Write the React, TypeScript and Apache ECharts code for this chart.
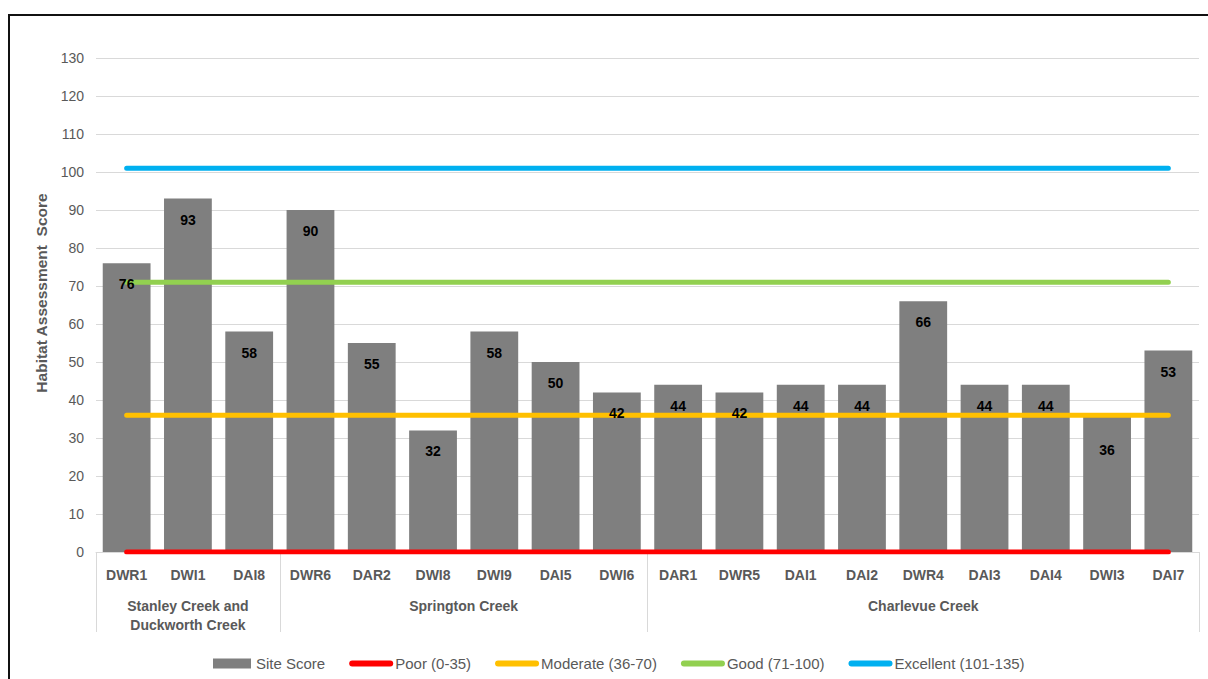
import React, { useEffect, useRef } from "react";
import * as echarts from "echarts";

// Sites, in the order they are plotted
const siteCodes = [
  "DWR1", "DWI1", "DAI8",
  "DWR6", "DAR2", "DWI8", "DWI9", "DAI5", "DWI6",
  "DAR1", "DWR5", "DAI1", "DAI2", "DWR4", "DAI3", "DAI4", "DWI3", "DAI7",
];
const siteScores = [76, 93, 58, 90, 55, 32, 58, 50, 42, 44, 42, 44, 44, 66, 44, 44, 36, 53];

// Creek groupings along the bottom axis
const creekGroups = ["Stanley Creek and\nDuckworth Creek", "Springton Creek", "Charlevue Creek"];
const creekGroupSizes = [3, 6, 9];

// Habitat condition bands (lower bound of each band)
const bandNames = ["Poor (0-35)", "Moderate (36-70)", "Good (71-100)", "Excellent (101-135)"];
const bandLevels = [0, 36, 71, 101];
const bandColors = ["#FF0000", "#FFC000", "#92D050", "#00B0F0"];

// Value axis
const yMin = 0;
const yMax = 130;
const yStep = 10;

const FONT = "'Liberation Sans', Arial, sans-serif";
const TEXT_GRAY = "#595959";
const GRID_GRAY = "#d9d9d9";
const BAR_GRAY = "#7F7F7F";

export default function App() {
  const ref = useRef<HTMLDivElement>(null);

  useEffect(() => {
    if (!ref.current) return;
    const chart = echarts.init(ref.current, undefined, { renderer: "svg" });

    const boundaries: number[] = [0];
    creekGroupSizes.forEach((n) => boundaries.push(boundaries[boundaries.length - 1] + n));
    const centers = creekGroupSizes.map((n, i) => boundaries[i] + n / 2);

    const labelData = siteScores.map((v, i) =>
      siteCodes[i] === "DWI3" ? { value: v, label: { distance: 28 } } : v
    );

    const bandSeries = bandNames.map((name, i) => ({
      name,
      type: "line",
      xAxisIndex: 0,
      data: siteCodes.map(() => bandLevels[i]),
      symbol: "none",
      z: 3,
      lineStyle: { color: bandColors[i], width: 5, cap: "round" },
      itemStyle: { color: bandColors[i] },
    }));

    chart.setOption({
      animation: false,
      textStyle: { fontFamily: FONT },
      grid: { left: 86, top: 42, right: 9, bottom: 127 },
      legend: {
        left: 198,
        top: 635,
        itemWidth: 38,
        itemHeight: 10,
        itemGap: 24,
        textStyle: { color: TEXT_GRAY, fontSize: 15, fontFamily: FONT },
        data: [
          { name: "Site Score", icon: "rect" },
          ...bandNames.map((name) => ({
            name,
            itemStyle: { opacity: 0 },
            lineStyle: { width: 6, cap: "round" },
          })),
        ],
      },
      xAxis: [
        {
          type: "category",
          data: siteCodes,
          position: "bottom",
          axisLine: { show: true, lineStyle: { color: GRID_GRAY, width: 1 } },
          axisTick: { show: false },
          axisLabel: {
            color: TEXT_GRAY,
            fontSize: 14,
            fontWeight: "bold",
            fontFamily: FONT,
            margin: 16,
            interval: 0,
          },
        },
        {
          type: "value",
          min: 0,
          max: boundaries[boundaries.length - 1],
          position: "bottom",
          axisLine: { show: false },
          splitLine: { show: false },
          axisTick: {
            show: true,
            customValues: boundaries,
            length: 80,
            lineStyle: { color: GRID_GRAY, width: 1 },
          },
          axisLabel: {
            customValues: centers,
            formatter: (v: number) => {
              const idx = centers.findIndex((c) => Math.abs(c - v) < 1e-6);
              return idx >= 0 ? creekGroups[idx] : "";
            },
            color: TEXT_GRAY,
            fontSize: 14,
            fontWeight: "bold",
            fontFamily: FONT,
            lineHeight: 19,
            margin: 44,
          },
        },
      ],
      yAxis: {
        type: "value",
        min: yMin,
        max: yMax,
        interval: yStep,
        name: "Habitat Assessment  Score",
        nameLocation: "middle",
        nameGap: 43,
        nameTextStyle: {
          color: TEXT_GRAY,
          fontSize: 15.5,
          fontWeight: "bold",
          fontFamily: FONT,
          padding: [0, 0, 0, 24],
        },
        axisLine: { show: false },
        axisTick: { show: false },
        axisLabel: { color: TEXT_GRAY, fontSize: 14, fontFamily: FONT, margin: 12 },
        splitLine: { lineStyle: { color: GRID_GRAY, width: 1 } },
      },
      series: [
        {
          name: "Site Score",
          type: "bar",
          xAxisIndex: 0,
          data: siteScores,
          barCategoryGap: "22%",
          itemStyle: { color: BAR_GRAY },
          z: 2,
        },
        ...bandSeries,
        {
          name: "Site Score values",
          type: "bar",
          xAxisIndex: 0,
          data: labelData,
          barGap: "-100%",
          barCategoryGap: "22%",
          itemStyle: { color: "rgba(0,0,0,0)" },
          z: 5,
          silent: true,
          label: {
            show: true,
            position: "insideTop",
            distance: 14,
            color: "#000",
            fontSize: 14,
            fontWeight: "bold",
            fontFamily: FONT,
          },
        },
      ],
    });

    return () => chart.dispose();
  }, []);

  return (
    <div style={{ position: "fixed", inset: 0, overflow: "hidden", background: "#fff" }}>
      <div
        style={{
          position: "absolute",
          left: 8,
          top: 14,
          width: 1240,
          height: 700,
          border: "2px solid #111",
          background: "#fff",
        }}
      >
        <div ref={ref} style={{ width: 1198, height: 663 }} />
      </div>
    </div>
  );
}
